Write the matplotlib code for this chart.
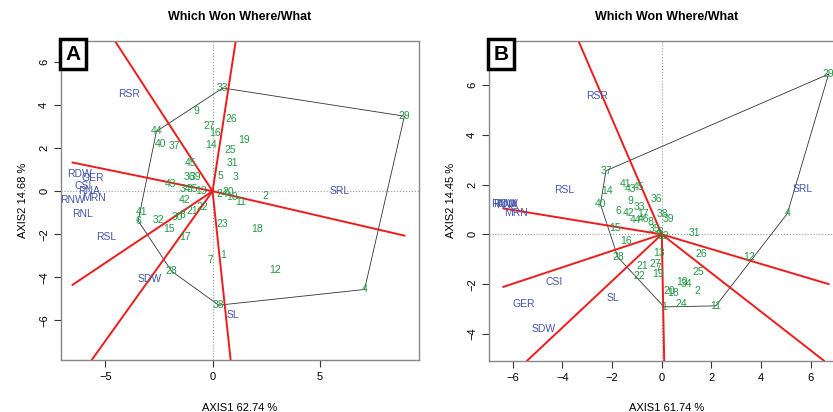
import numpy as np
import matplotlib
matplotlib.use('Agg')
import matplotlib.pyplot as plt

plt.rcParams['font.family'] = ['Liberation Sans', 'DejaVu Sans']

# Panel A - genotypes (label, x, y)
gen_a = ['1', '2', '3', '4', '5', '6', '7', '8', '9', '10', '11', '12', '13', '14', '15',
         '16', '17', '18', '19', '20', '21', '22', '23', '24', '25', '26', '27', '28', '29', '30',
         '31', '32', '33', '34', '35', '36', '37', '38', '39', '40', '41', '42', '43', '44', '45']
gen_a_x = [0.48, 2.47, 1.07, 7.09, 0.37, -3.47, -0.09, -1.40, -0.74, 0.92, 1.30, 2.93, -0.56, -0.09, -2.05,
           0.12, -1.30, 2.08, 1.47, 0.72, -0.96, -0.48, 0.45, 0.47, 0.84, 0.85, -0.14, -1.91, 8.95, -1.64,
           0.95, -2.53, 0.48, -1.26, -0.92, -1.10, -1.77, 0.29, -0.79, -2.42, -3.32, -1.30, -1.95, -2.62, -1.02]
gen_a_y = [-2.95, -0.22, 0.67, -4.57, 0.70, -1.38, -3.21, -1.12, 3.73, -0.29, -0.50, -3.67, 0.01, 2.14, -1.78,
           2.71, -2.15, -1.78, 2.36, -0.05, -0.93, -0.73, -1.52, -0.15, 1.91, 3.38, 3.05, -3.72, 3.49, -1.20,
           1.30, -1.32, 4.80, 0.09, 0.09, 0.64, 2.09, -5.30, 0.64, 2.19, -0.96, -0.42, 0.33, 2.78, 1.29]
hull_a = ['33', '29', '4', '38', '28', '6', '44']

# Panel A - environments
env_a = ['RSR', 'RDW', 'GER', 'CSI', 'RNA', 'MRN', 'RNW', 'RNL', 'RSL', 'SDW', 'SL', 'SRL']
env_a_x = [-3.89, -6.22, -5.60, -6.06, -5.75, -5.55, -6.53, -6.07, -4.95, -2.92, 0.95, 5.95]
env_a_y = [4.54, 0.82, 0.62, 0.23, 0.00, -0.30, -0.39, -1.08, -2.15, -4.09, -5.77, 0.00]

# Panel B - genotypes
gen_b = ['1', '2', '3', '4', '5', '6', '7', '8', '9', '10', '11', '12', '13', '14', '15',
         '16', '17', '18', '19', '20', '21', '22', '24', '25', '26', '27', '28', '29', '31', '32',
         '33', '34', '35', '36', '37', '38', '39', '40', '41', '42', '43', '44', '45', '46']
gen_b_x = [0.09, 1.43, -0.05, 5.06, -0.12, -1.75, -0.13, -0.44, -1.27, 0.80, 2.18, 3.53, -0.11, -2.21, -1.88,
           -1.43, -0.74, 0.47, -0.13, 0.29, -0.80, -0.90, 0.80, 1.47, 1.57, -0.27, -1.77, 6.72, 1.30, 0.05,
           -0.91, 0.98, -0.30, -0.23, -2.25, 0.04, 0.27, -2.47, -1.45, -1.34, -1.25, -1.07, -0.93, -0.74]
gen_b_y = [-2.91, -2.28, 0.08, 0.84, -0.02, 0.95, -1.37, 0.48, 1.35, -1.90, -2.87, -0.92, -0.74, 1.74, 0.24,
           -0.25, 0.82, -2.37, -1.60, -2.26, -1.26, -1.67, -2.80, -1.53, -0.79, -1.19, -0.92, 6.43, 0.06, -0.08,
           1.08, -2.00, 0.20, 1.40, 2.55, 0.82, 0.60, 1.20, 2.02, 0.84, 1.82, 0.57, 1.90, 0.60]
hull_b = ['29', '37', '40', '28', '1', '11', '4']

# Panel B - environments
env_b = ['RSR', 'RSL', 'RNW', 'RDW', 'RNA', 'MRN', 'CSI', 'GER', 'SDW', 'SL', 'SRL']
env_b_x = [-2.61, -3.92, -6.38, -6.30, -6.25, -5.89, -4.35, -5.56, -4.76, -1.97, 5.69]
env_b_y = [5.57, 1.78, 1.20, 1.20, 1.18, 0.84, -1.92, -2.81, -3.78, -2.55, 1.81]

GREEN = '#229944'
BLUE = '#4455AA'
RED = '#EE1C1C'


def which_won_where(ax, gen, gx, gy, env, ex, ey, hull, xlim, ylim, letter, pct1, pct2, xticks, yticks):
    gx = np.array(gx)
    gy = np.array(gy)
    ax.set_xlim(xlim)
    ax.set_ylim(ylim)
    ax.axhline(0, color='#999999', ls=':', lw=0.8)
    ax.axvline(0, color='#999999', ls=':', lw=0.8)

    # polygon through the vertex genotypes
    idx = [gen.index(h) for h in hull] + [gen.index(hull[0])]
    ax.plot(gx[idx], gy[idx], color='#333333', lw=0.6)

    # rays from origin perpendicular to each side of the polygon
    allx = np.concatenate([gx, ex])
    bx = (allx.min(), allx.max())
    by = ylim
    for i in range(len(hull)):
        p = np.array([gx[idx[i]], gy[idx[i]]])
        q = np.array([gx[idx[i + 1]], gy[idx[i + 1]]])
        d = q - p
        foot = p - (p @ d) / (d @ d) * d
        u = foot / np.linalg.norm(foot)
        ts = []
        ts.append(bx[1] / u[0] if u[0] > 0 else bx[0] / u[0])
        ts.append(by[1] / u[1] if u[1] > 0 else by[0] / u[1])
        t = min(ts)
        ax.plot([0, u[0] * t], [0, u[1] * t], color=RED, lw=1.4)

    for lab, x, y in zip(gen, gx, gy):
        ax.text(x, y, lab, color=GREEN, fontsize=7.5, ha='center', va='center')
    for lab, x, y in zip(env, ex, ey):
        ax.text(x, y, lab, color=BLUE, fontsize=7.5, ha='center', va='center')

    ax.set_xticks(xticks)
    ax.set_yticks(yticks)
    ax.set_xticklabels([str(v).replace('-', '\u2212') for v in xticks])
    ax.set_yticklabels([str(v).replace('-', '\u2212') for v in yticks], rotation=90, va='center')
    ax.tick_params(labelsize=8, length=5, width=0.8, colors='#333333', labelcolor='black')
    for s in ax.spines.values():
        s.set_color('#888888')
        s.set_linewidth(1.0)
    ax.set_xlabel('AXIS1 ' + pct1 + ' %', fontsize=8, labelpad=15)
    ax.set_ylabel('AXIS2 ' + pct2 + ' %', fontsize=8, labelpad=8)
    ax.set_title('Which Won Where/What', fontsize=9, fontweight='bold', pad=15)
    ax.text(0.012, 0.988, letter, transform=ax.transAxes, fontsize=15, fontweight='bold',
            ha='left', va='top',
            bbox=dict(boxstyle='square,pad=0.25', fc='white', ec='black', lw=2.5))


fig = plt.figure(figsize=(8.33, 4.12), dpi=100)
ax1 = fig.add_axes([61 / 833, 52 / 412, 358 / 833, 319.3 / 412])
ax2 = fig.add_axes([489 / 833, 51.3 / 412, 356 / 833, 320 / 412])

which_won_where(ax1, gen_a, gen_a_x, gen_a_y, env_a, env_a_x, env_a_y, hull_a,
                (-7.07, 9.63), (-7.85, 7.0), 'A', '62.74', '14.68',
                [-5, 0, 5], [-6, -4, -2, 0, 2, 4, 6])
which_won_where(ax2, gen_b, gen_b_x, gen_b_y, env_b, env_b_x, env_b_y, hull_b,
                (-6.96, 7.38), (-5.07, 7.77), 'B', '61.74', '14.45',
                [-6, -4, -2, 0, 2, 4, 6], [-4, -2, 0, 2, 4, 6])

fig.savefig('out.png', dpi=100)
